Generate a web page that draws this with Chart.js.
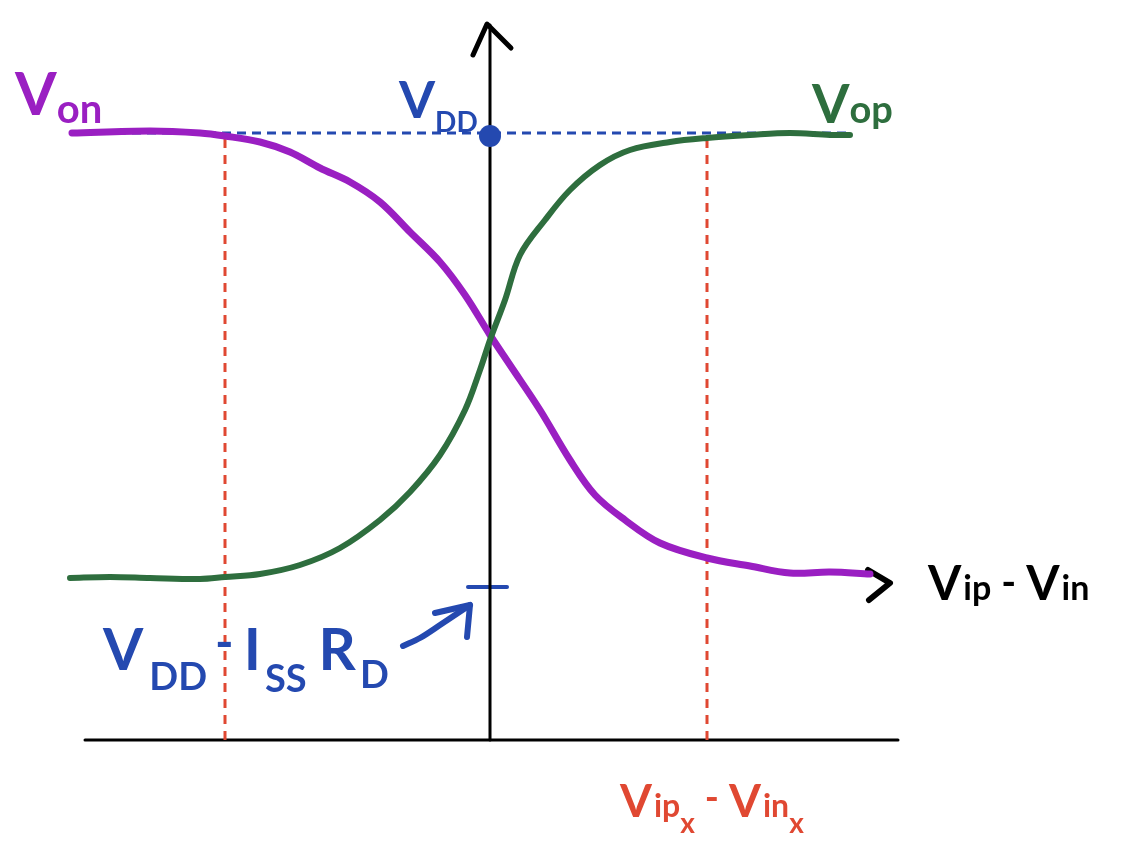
<!DOCTYPE html>
<html>
<head>
<meta charset="utf-8">
<script src="https://cdn.jsdelivr.net/npm/chart.js@4"></script>
<style>
  body { margin: 0; background: #fff; }
  #wrap { width: 1121px; height: 864px; }
</style>
</head>
<body>
<div id="wrap"><canvas id="grafico" width="1121" height="864"></canvas></div>
<script>
// units: x = Vip - Vin, y = voltage (arbitrary units)
const vonX = [-4.18, -3.40, -2.90, -2.65, -2.30, -2.00, -1.70, -1.40, -1.10, -0.80, -0.50, -0.25, 0, 0.20, 0.50, 0.80, 1.05, 1.35, 1.70, 2.17, 2.60, 3.00, 3.40, 3.80];
const vonY = [6.07, 6.09, 6.07, 6.04, 5.98, 5.88, 5.72, 5.58, 5.38, 5.08, 4.78, 4.45, 4.05, 3.75, 3.30, 2.80, 2.45, 2.20, 1.97, 1.82, 1.74, 1.67, 1.68, 1.66];

const vopX = [-4.20, -3.80, -3.40, -2.90, -2.65, -2.30, -1.90, -1.50, -1.10, -0.80, -0.50, -0.25, -0.10, 0, 0.15, 0.30, 0.55, 0.80, 1.10, 1.40, 1.80, 2.17, 2.60, 3.00, 3.40, 3.60];
const vopY = [1.62, 1.63, 1.62, 1.61, 1.63, 1.66, 1.75, 1.92, 2.20, 2.48, 2.85, 3.30, 3.70, 4.00, 4.40, 4.85, 5.20, 5.50, 5.75, 5.90, 5.98, 6.02, 6.05, 6.07, 6.05, 6.05];

const vdd = 6.07;
const vddLineX = [-4.18, 3.60];
const vipx = [-2.65, 2.17];     // red dashed markers
const lowLevel = 1.53;          // VDD - Iss*Rd tick

const xAxisX = [-4.05, 4.08];
const yAxisY = [0, 7.15];
const upCaretX = [-0.17, -0.03, 0.21];
const upCaretY = [6.85, 7.16, 6.92];
const rightCaretX = [3.78, 4.00, 3.79];
const rightCaretY = [1.70, 1.57, 1.40];
const tickX = [-0.22, 0.17];
const pointerX = [-0.87, -0.70, -0.50, -0.32, -0.20];
const pointerY = [0.94, 1.02, 1.15, 1.27, 1.35];
const pointerHeadX = [-0.55, -0.20, -0.23];
const pointerHeadY = [1.27, 1.35, 1.03];

const purple = '#9a1fc2';
const green = '#2e6e3e';
const blue = '#2449b0';
const red = '#e04832';
const black = '#000000';

function pts(xs, ys) {
  return xs.map((x, i) => ({ x: x, y: ys[i] }));
}

function linha(data, color, width, order, extra) {
  return Object.assign({
    data: data,
    borderColor: color,
    backgroundColor: color,
    borderWidth: width,
    pointRadius: 0,
    tension: 0,
    fill: false,
    borderCapStyle: 'round',
    borderJoinStyle: 'round',
    order: order,
  }, extra || {});
}

const datasets = [
  linha(pts(vopX, vopY), green, 6, 0, { tension: 0.35 }),
  linha(pts(vonX, vonY), purple, 7, 1, { tension: 0.35 }),
  linha([{ x: 0, y: vdd - 0.03 }], blue, 0, 2, { pointRadius: 11, showLine: false }),
  linha(pts(vddLineX, [vdd, vdd]), blue, 3, 3, { borderDash: [9, 6], borderCapStyle: 'butt' }),
  linha(pts([vipx[0], vipx[0]], [0, vdd]), red, 3, 4, { borderDash: [9, 7], borderCapStyle: 'butt' }),
  linha(pts([vipx[1], vipx[1]], [0, vdd]), red, 3, 4, { borderDash: [9, 7], borderCapStyle: 'butt' }),
  linha(pts(xAxisX, [0, 0]), black, 3, 5),
  linha(pts([0, 0], yAxisY), black, 3, 5),
  linha(pts(upCaretX, upCaretY), black, 5, 5),
  linha(pts(rightCaretX, rightCaretY), black, 6, 5),
  linha(pts(tickX, [lowLevel, lowLevel]), blue, 4, 5),
  linha(pts(pointerX, pointerY), blue, 6, 5, { tension: 0.3 }),
  linha(pts(pointerHeadX, pointerHeadY), blue, 6, 5),
];

// labels: anchor in data units, then pieces [text, size, dx, dy]
const rotulos = [
  { x: -4.75, y: 6.25, color: purple, parts: [['V', 60, 0, 0], ['on', 40, 0, 8]] },
  { x: -0.91, y: 6.22, color: blue, parts: [['V', 52, 0, 0], ['DD', 28, 0, 14]] },
  { x: 3.22, y: 6.17, color: green, parts: [['V', 54, 0, 0], ['op', 38, 0, 0]] },
  { x: 4.38, y: 1.40, color: black, parts: [['V', 48, 0, 0], ['ip', 34, 2, 0], ['-', 40, 10, -4], ['V', 48, 10, 0], ['in', 34, 2, 0]] },
  { x: -3.87, y: 0.70, color: blue, parts: [['V', 58, 0, 0], ['DD', 38, 6, 20], ['-', 50, 8, -10], ['I', 58, 10, 0], ['SS', 38, 4, 22], ['R', 58, 12, 0], ['D', 38, 4, 18]] },
  { x: 1.30, y: -0.77, color: red, parts: [['V', 46, 0, 0], ['ip', 32, 2, 0], ['x', 28, 0, 16], ['-', 38, 10, -6], ['V', 46, 10, 0], ['in', 32, 2, 0], ['x', 28, 0, 16]] },
];

const textos = {
  id: 'textos',
  afterDatasetsDraw(chart) {
    const ctx = chart.ctx;
    const sx = chart.scales.x;
    const sy = chart.scales.y;
    ctx.save();
    ctx.textBaseline = 'alphabetic';
    rotulos.forEach((r) => {
      let px = sx.getPixelForValue(r.x);
      const py = sy.getPixelForValue(r.y);
      ctx.fillStyle = r.color;
      r.parts.forEach(([t, size, dx, dy]) => {
        ctx.font = `bold ${size}px Lato, "Open Sans", sans-serif`;
        px += dx;
        ctx.fillText(t, px, py + dy);
        px += ctx.measureText(t).width;
      });
    });
    ctx.restore();
  }
};

new Chart(document.getElementById('grafico').getContext('2d'), {
  type: 'line',
  data: { datasets: datasets },
  options: {
    responsive: false,
    animation: false,
    devicePixelRatio: 1,
    layout: { padding: 0, autoPadding: false },
    plugins: { legend: { display: false }, tooltip: { enabled: false } },
    scales: {
      x: { type: 'linear', min: -4.90, max: 6.31, display: false },
      y: { type: 'linear', min: -1.24, max: 7.40, display: false },
    },
  },
  plugins: [textos],
});
</script>
</body>
</html>
